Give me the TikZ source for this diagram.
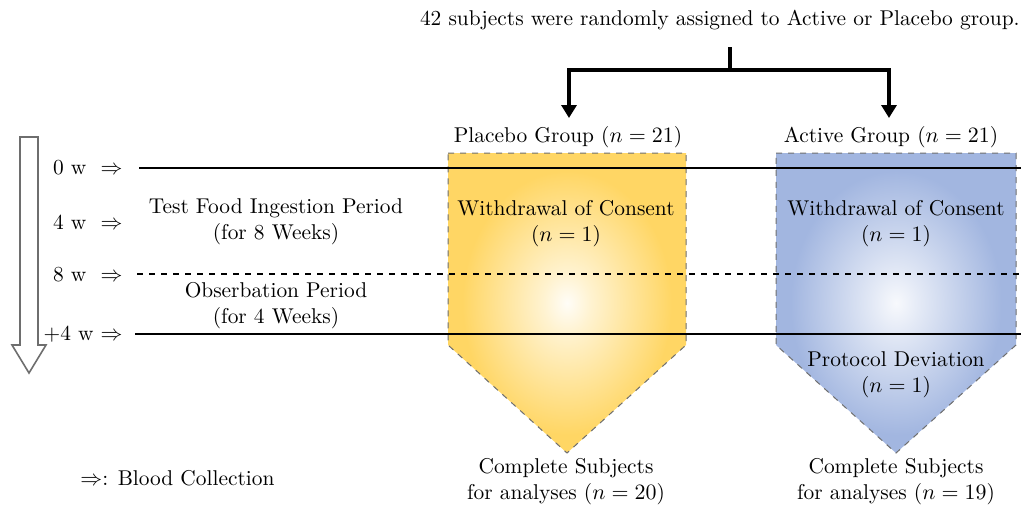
\documentclass[tikz,border=0pt]{standalone}
\usetikzlibrary{arrows.meta}
\definecolor{goldc}{RGB}{255,214,100}
\definecolor{bluec}{RGB}{162,182,224}
\definecolor{edgec}{RGB}{110,110,110}
\pgfdeclareradialshading{goldshade}{\pgfpoint{0bp}{0bp}}{color(0bp)=(white!95!goldc); color(5bp)=(white!70!goldc); color(22bp)=(goldc); color(50bp)=(goldc)}
\pgfdeclareradialshading{blueshade}{\pgfpoint{0bp}{0bp}}{color(0bp)=(white!92!bluec); color(5bp)=(white!70!bluec); color(22bp)=(bluec); color(50bp)=(bluec)}
\begin{document}
\begin{tikzpicture}[x=0.5pt,y=-0.5pt,
  txt/.style={font=\fontsize{10.7}{13}\selectfont, inner sep=0pt, align=center},
  grpshape/.style={draw=edgec, dashed, line width=0.5pt},
  tree/.style={line width=1.6pt},
  treearrow/.style={line width=1.6pt, -{Triangle[width=7.5pt,length=6.5pt]}},
  period/.style={line width=0.55pt},
  bigarrow/.style={draw=edgec, line width=0.8pt, fill=white}]
\useasboundingbox (0,0) rectangle (1021,505);

% group shapes
\path[grpshape, shading=goldshade] (448,153) -- (686,153) -- (686,345) -- (567,453) -- (448,345) -- cycle;
\path[grpshape, shading=blueshade] (776,153) -- (1016,153) -- (1016,345) -- (896,453) -- (776,345) -- cycle;

% title and tree
\node[txt, anchor=north east] (title) at (1020,10) {42 subjects were randomly assigned to Active or Placebo group.};
\coordinate (t0) at (730,47);
\coordinate (tj) at (730,70);
\coordinate (tl) at (569,70);
\coordinate (tr) at (889,70);
\node[txt] (plac) at (568,137) {Placebo Group ($n = 21$)};
\node[txt] (act) at (891,137) {Active Group ($n = 21$)};
\coordinate (pl) at (569,118);
\coordinate (ar) at (889,118);
\draw[tree] (t0) -- (tj);
\draw[tree] (tl) -- (tr);
\draw[treearrow] ([yshift=0.8pt]tl) -- (pl);
\draw[treearrow] ([yshift=0.8pt]tr) -- (ar);

% time arrow
\draw[bigarrow] (20,137) -- (38,137) -- (38,345) -- (46,345) -- (29,373) -- (12,345) -- (20,345) -- cycle;

% time labels
\node[txt, anchor=east] (w0) at (123,168) {0 w \ $\Rightarrow$};
\node[txt, anchor=east] (w4) at (123,222) {4 w \ $\Rightarrow$};
\node[txt, anchor=east] (w8) at (123,275) {8 w \ $\Rightarrow$};
\node[txt, anchor=east] (w12) at (123,334) {+4 w $\Rightarrow$};

% period lines
\coordinate (l0a) at (139,168); \coordinate (l0b) at (1021,168);
\coordinate (l8a) at (137,274); \coordinate (l8b) at (1021,274);
\coordinate (l12a) at (135,334); \coordinate (l12b) at (1021,334);
\draw[period] (l0a) -- (l0b);
\draw[period, dashed] (l8a) -- (l8b);
\draw[period] (l12a) -- (l12b);

% period texts
\node[txt] (ing) at (276,222) {Test Food Ingestion Period\\(for 8 Weeks)};
\node[txt] (obs) at (276,306) {Obserbation Period\\(for 4 Weeks)};

% group texts
\node[txt] (pw) at (566,224) {Withdrawal of Consent\\($n = 1$)};
\node[txt] (aw) at (896,224) {Withdrawal of Consent\\($n = 1$)};
\node[txt] (apd) at (896,375) {Protocol Deviation\\($n = 1$)};
\node[txt] (pc) at (566,482) {Complete Subjects\\for analyses ($n = 20$)};
\node[txt] (ac) at (896,482) {Complete Subjects\\for analyses ($n = 19$)};

% legend
\node[txt, anchor=west] (leg) at (80,478) {$\Rightarrow$: Blood Collection};
\end{tikzpicture}
\end{document}
